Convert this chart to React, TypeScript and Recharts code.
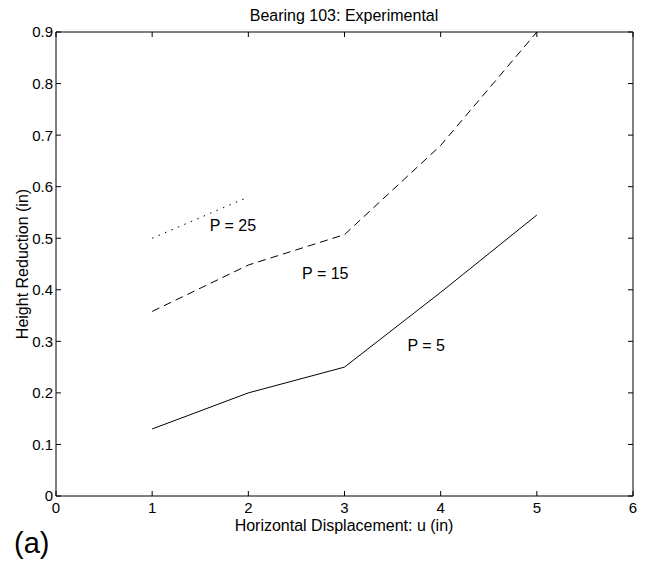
import { LineChart, Line, XAxis, YAxis, ReferenceDot } from "recharts";

const xValues = [1, 2, 3, 4, 5];
const p5Values = [0.13, 0.2, 0.25, 0.395, 0.545];
const p15Values = [0.358, 0.448, 0.507, 0.68, 0.9];
const p25XValues = [1, 2];
const p25Values = [0.5, 0.58];

const xTicks = [0, 1, 2, 3, 4, 5, 6];
const yTicks = [0, 0.1, 0.2, 0.3, 0.4, 0.5, 0.6, 0.7, 0.8, 0.9];

const annotations = [
  { x: 1.84, y: 0.525, text: "P = 25" },
  { x: 2.8, y: 0.432, text: "P = 15" },
  { x: 3.85, y: 0.293, text: "P = 5" },
];

const FONT = "'Liberation Sans', Arial, Helvetica, sans-serif";

const toPoints = (xs: number[], ys: number[]) => xs.map((x, i) => ({ x, y: ys[i] }));

const p5Data = toPoints(xValues, p5Values);
const p15Data = toPoints(xValues, p15Values);
const p25Data = toPoints(p25XValues, p25Values);

// matlab style: labels outside, tick marks pointing into the box
const LeftTick = (props: any) => {
  const { x, y, payload } = props;
  return (
    <g>
      <line x1={x + 3} x2={x + 8} y1={y} y2={y} stroke="#000" />
      <text x={x} y={y} dy="0.36em" textAnchor="end" fontSize={15} fontFamily={FONT} fill="#000">
        {payload.value}
      </text>
    </g>
  );
};

const BottomTick = (props: any) => {
  const { x, y, payload } = props;
  return (
    <g>
      <line x1={x} x2={x} y1={y} y2={y - 5} stroke="#000" />
      <text x={x} y={y + 17} textAnchor="middle" fontSize={15} fontFamily={FONT} fill="#000">
        {payload.value}
      </text>
    </g>
  );
};

const TopTick = (props: any) => {
  const { x, y } = props;
  return <line x1={x} x2={x} y1={y} y2={y + 5} stroke="#000" />;
};

const RightTick = (props: any) => {
  const { x, y } = props;
  return <line x1={x} x2={x - 5} y1={y} y2={y} stroke="#000" />;
};

export default function App() {
  return (
    <div style={{ position: "absolute", left: 0, top: 0, width: 648, height: 567, background: "#fff", fontFamily: FONT }}>
      <LineChart
        width={648}
        height={567}
        margin={{ top: 31, right: 14, bottom: 39, left: 0 }}
      >
        <XAxis
          dataKey="x"
          type="number"
          domain={[0, 6]}
          ticks={xTicks}
          height={32}
          tickSize={0}
          tickMargin={0}
          tickLine={false}
          axisLine={{ stroke: "#000", strokeWidth: 1 }}
          tick={<BottomTick />}
          interval={0}
          allowDataOverflow
        />
        <XAxis
          xAxisId="top"
          orientation="top"
          dataKey="x"
          type="number"
          domain={[0, 6]}
          ticks={xTicks}
          height={1}
          tickSize={0}
          tickMargin={0}
          tickLine={false}
          axisLine={{ stroke: "#000", strokeWidth: 1 }}
          tick={<TopTick />}
          interval={0}
          allowDataOverflow
        />
        <YAxis
          type="number"
          domain={[0, 0.9]}
          ticks={yTicks}
          width={56}
          tickSize={0}
          tickMargin={3}
          tickLine={false}
          axisLine={{ stroke: "#000", strokeWidth: 1 }}
          tick={<LeftTick />}
          interval={0}
          allowDataOverflow
        />
        <YAxis
          yAxisId="right"
          orientation="right"
          type="number"
          domain={[0, 0.9]}
          ticks={yTicks}
          width={1}
          tickSize={0}
          tickMargin={0}
          tickLine={false}
          axisLine={{ stroke: "#000", strokeWidth: 1 }}
          tick={<RightTick />}
          interval={0}
          allowDataOverflow
        />
        {/* invisible series so the top and right frame axes get a domain */}
        <Line
          data={p5Data}
          dataKey="y"
          xAxisId="top"
          yAxisId="right"
          stroke="none"
          dot={false}
          activeDot={false}
          legendType="none"
          isAnimationActive={false}
        />
        <Line
          data={p5Data}
          dataKey="y"
          type="linear"
          stroke="#000"
          strokeWidth={1}
          dot={false}
          isAnimationActive={false}
        />
        <Line
          data={p15Data}
          dataKey="y"
          type="linear"
          stroke="#000"
          strokeWidth={1}
          strokeDasharray="8 5"
          dot={false}
          isAnimationActive={false}
        />
        <Line
          data={p25Data}
          dataKey="y"
          type="linear"
          stroke="#000"
          strokeWidth={1}
          strokeDasharray="1.5 5.5"
          dot={false}
          isAnimationActive={false}
        />
        {annotations.map((a) => (
          <ReferenceDot
            key={a.text}
            x={a.x}
            y={a.y}
            r={0}
            fill="none"
            stroke="none"
            label={{ value: a.text, position: "center", fill: "#000", fontSize: 16, fontFamily: FONT }}
          />
        ))}
      </LineChart>
      <svg width={648} height={567} style={{ position: "absolute", left: 0, top: 0, pointerEvents: "none" }}>
        <text x={344} y={21} textAnchor="middle" fontSize={16} fontFamily={FONT} fill="#000">
          Bearing 103: Experimental
        </text>
        <text x={344} y={531} textAnchor="middle" fontSize={16} fontFamily={FONT} fill="#000">
          Horizontal Displacement: u (in)
        </text>
        <text
          x={0}
          y={0}
          transform="translate(28 264) rotate(-90)"
          textAnchor="middle"
          fontSize={16}
          fontFamily={FONT}
          fill="#000"
        >
          Height Reduction (in)
        </text>
        <text x={14} y={553} fontSize={29} fontFamily={FONT} fill="#000">
          (a)
        </text>
      </svg>
    </div>
  );
}
